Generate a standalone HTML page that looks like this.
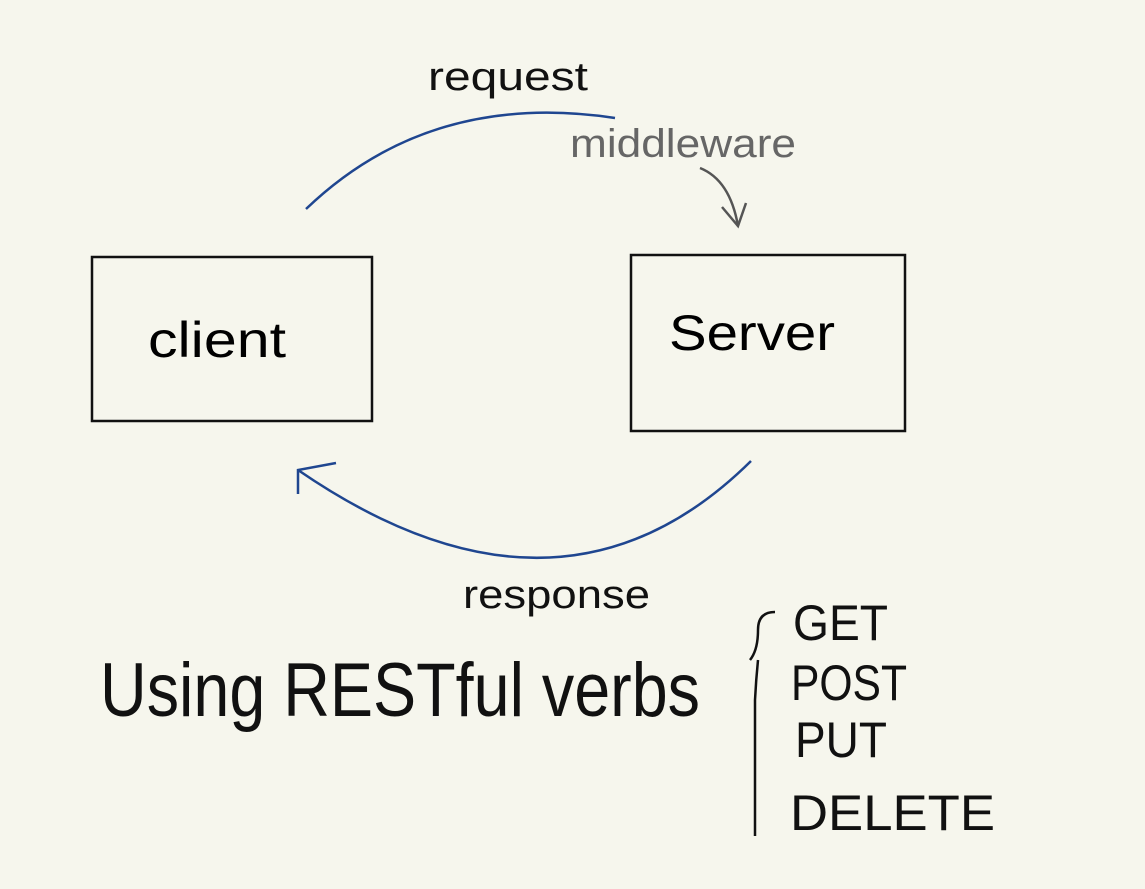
<!DOCTYPE html>
<html><head><meta charset="utf-8"><style>
html,body{margin:0;padding:0;background:#f6f6ed;}
svg{display:block}
text{font-family:"Liberation Sans",sans-serif;}
</style></head><body>
<svg width="1145" height="889" viewBox="0 0 1145 889" xmlns="http://www.w3.org/2000/svg">
<rect width="1145" height="889" fill="#f6f6ed"/>
<!-- boxes -->
<rect x="92" y="257" width="280" height="164" fill="none" stroke="#111" stroke-width="2.5"/>
<rect x="631" y="255" width="274" height="176" fill="none" stroke="#111" stroke-width="2.5"/>
<text x="148" y="357" font-size="50" fill="#000" textLength="138" lengthAdjust="spacingAndGlyphs">client</text>
<text x="669" y="350" font-size="50" fill="#000" textLength="166" lengthAdjust="spacingAndGlyphs">Server</text>
<!-- request arc -->
<path d="M306,209 Q430,90 615,118" fill="none" stroke="#1f4690" stroke-width="2.5"/>
<text x="428" y="90" font-size="40" fill="#111" font-weight="300" textLength="160" lengthAdjust="spacingAndGlyphs">request</text>
<text x="570" y="157" font-size="40" fill="#666" textLength="226" lengthAdjust="spacingAndGlyphs">middleware</text>
<path d="M700,168 Q730,180 738,226" fill="none" stroke="#555" stroke-width="2.5"/>
<path d="M722,207 L738,226 L746,203" fill="none" stroke="#555" stroke-width="2.5"/>
<!-- response arc -->
<path d="M751,461 Q560,650 298,470" fill="none" stroke="#1f4690" stroke-width="2.5"/>
<path d="M298,494 L298,470 L336,463" fill="none" stroke="#1f4690" stroke-width="2.5"/>
<text x="463" y="608" font-size="40" fill="#111" textLength="187" lengthAdjust="spacingAndGlyphs">response</text>
<!-- verbs -->
<text x="100" y="716" font-size="76" fill="#111" font-weight="300" textLength="600" lengthAdjust="spacingAndGlyphs">Using RESTful verbs</text>
<path d="M775,612 Q758,612 758,630 Q758,650 750,660 M758,660 Q756,680 755,700 L755,836" fill="none" stroke="#111" stroke-width="2.5"/>
<text x="793" y="640" font-size="50" fill="#111" textLength="95" lengthAdjust="spacingAndGlyphs">GET</text>
<text x="791" y="700" font-size="50" fill="#111" textLength="116" lengthAdjust="spacingAndGlyphs">POST</text>
<text x="795" y="757" font-size="50" fill="#111" textLength="92" lengthAdjust="spacingAndGlyphs">PUT</text>
<text x="790" y="830" font-size="50" fill="#111" textLength="205" lengthAdjust="spacingAndGlyphs">DELETE</text>
</svg>
</body></html>
